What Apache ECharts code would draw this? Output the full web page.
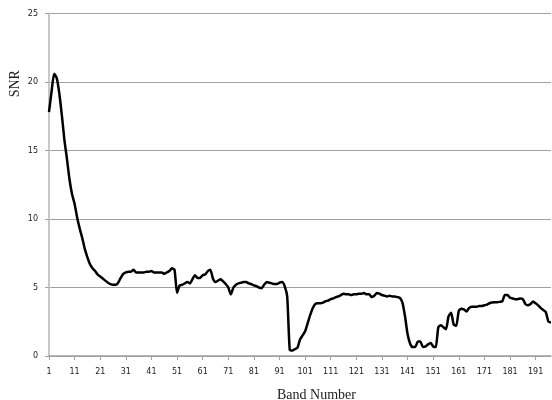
<!DOCTYPE html>
<html>
<head>
<meta charset="utf-8">
<script src="https://cdn.jsdelivr.net/npm/echarts@6/dist/echarts.min.js"></script>
<style>html,body{margin:0;padding:0;background:#fff}#c{width:552px;height:400px}</style>
</head>
<body>
<div id="c"></div>
<script>
var snr = [
17.8,19.3,20.6,20.3,19.2,17.6,15.8,14.4,12.9,11.8,
11.1,10.1,9.3,8.6,7.8,7.2,6.7,6.4,6.2,5.95,
5.8,5.65,5.5,5.35,5.25,5.2,5.2,5.35,5.7,6.0,
6.1,6.15,6.15,6.3,6.1,6.1,6.1,6.1,6.15,6.15,
6.2,6.1,6.1,6.1,6.1,6.0,6.1,6.2,6.4,6.3,
4.6,5.15,5.2,5.3,5.4,5.3,5.6,5.9,5.7,5.7,
5.9,5.95,6.2,6.3,5.65,5.4,5.5,5.6,5.45,5.25,
5.0,4.5,5.0,5.2,5.3,5.35,5.4,5.4,5.3,5.25,
5.15,5.1,5.0,4.95,5.2,5.4,5.35,5.3,5.25,5.25,
5.35,5.4,5.1,4.35,0.45,0.4,0.5,0.6,1.2,1.5,
1.8,2.4,3.0,3.5,3.8,3.85,3.85,3.9,4.0,4.05,
4.15,4.2,4.3,4.35,4.45,4.55,4.5,4.5,4.45,4.5,
4.5,4.55,4.55,4.6,4.5,4.5,4.3,4.4,4.6,4.55,
4.45,4.4,4.35,4.4,4.35,4.35,4.3,4.25,3.9,2.9,
1.6,0.9,0.65,0.65,1.05,1.05,0.65,0.7,0.85,0.95,
0.7,0.65,2.1,2.25,2.1,1.95,2.9,3.15,2.3,2.2,
3.3,3.45,3.4,3.25,3.5,3.6,3.6,3.6,3.65,3.65,
3.7,3.75,3.85,3.9,3.92,3.92,3.95,4.0,4.45,4.45,
4.25,4.2,4.15,4.15,4.2,4.15,3.8,3.7,3.8,3.97,
3.85,3.7,3.5,3.35,3.2,2.5,2.45
];
var bands = [];
for (var i = 1; i <= snr.length; i++) bands.push(String(i));
var yTicks = [0, 5, 10, 15, 20, 25];
var xTitle = 'Band Number';
var yTitle = 'SNR';

var chart = echarts.init(document.getElementById('c'), null, {renderer: 'canvas'});
chart.setOption({
  animation: false,
  backgroundColor: '#fff',
  grid: {left: 49, right: 1, top: 13.5, bottom: 44, containLabel: false},
  xAxis: {
    type: 'category',
    data: bands,
    boundaryGap: false,
    axisLine: {show: true, lineStyle: {color: '#a0a0a0', width: 1.5}},
    axisTick: {show: true, interval: 9, length: 4, lineStyle: {color: '#a0a0a0'}},
    axisLabel: {interval: 9, margin: 12, color: '#222', fontSize: 8, fontFamily: 'DejaVu Sans'},
    splitLine: {show: false}
  },
  yAxis: {
    type: 'value',
    min: yTicks[0],
    max: yTicks[yTicks.length - 1],
    interval: 5,
    axisLine: {show: true, lineStyle: {color: '#c8c8c8', width: 2}},
    axisTick: {show: true, length: 4, lineStyle: {color: '#a0a0a0'}},
    axisLabel: {margin: 11, color: '#222', fontSize: 8, fontFamily: 'DejaVu Sans'},
    splitLine: {show: true, lineStyle: {color: '#a0a0a0', width: 1}}
  },
  graphic: [
    {type: 'text', x: 316.5, y: 395, style: {text: xTitle, font: '14px "Liberation Serif"', fill: '#222', align: 'center', verticalAlign: 'middle'}},
    {type: 'text', x: 15.5, y: 83.7, rotation: Math.PI / 2, style: {text: yTitle, font: '14px "Liberation Serif"', fill: '#222', align: 'center', verticalAlign: 'middle'}}
  ],
  series: [{
    type: 'line',
    data: snr,
    smooth: 0.2,
    showSymbol: false,
    symbol: 'none',
    lineStyle: {color: '#000', width: 2.5},
    z: 5
  }]
});
</script>
</body>
</html>
